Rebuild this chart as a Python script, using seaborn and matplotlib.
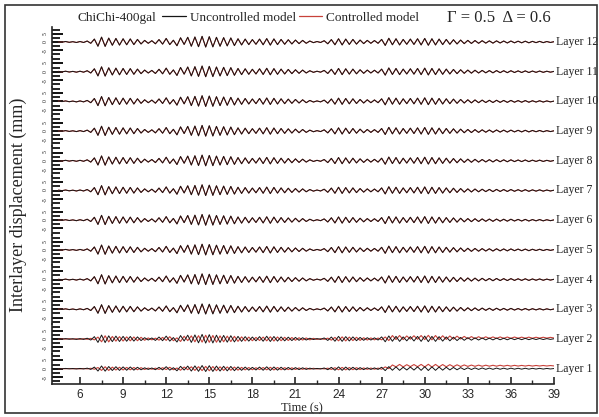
import numpy as np
import pandas as pd
import matplotlib
matplotlib.use("Agg")
import matplotlib.pyplot as plt
from matplotlib.lines import Line2D
from matplotlib.patches import Rectangle
import seaborn as sns

# ---------------- data ----------------
layers = [12, 11, 10, 9, 8, 7, 6, 5, 4, 3, 2, 1]
t_start = 4.5      # s, first sample
t_step = 0.25      # s, half-period of the dominant response
# successive peak values (mm) of the top-layer uncontrolled response
base_peaks = [
    0.2, -0.1, 0.3, -0.2, 0.2, -0.3, 0.3, -0.3,          # 4.5-6.5
    0.6, -0.8,                                           # 6.5-7
    1.8, -2.6, 3.0, -2.7,                                # 7-8
    2.4, -2.0, 2.2, -1.9,                                # 8-9
    2.0, -1.7, 1.9, -1.6,                                # 9-10
    1.6, -1.2, 1.0, -0.8,                                # 10-11
    0.8, -1.1, 1.5, -1.3,                                # 11-12
    2.2, -1.6, 1.1, -2.3,                                # 12-13
    2.6, -1.5, 2.9, -2.6,                                # 13-14
    3.1, -2.9, 3.5, -3.1,                                # 14-15
    3.3, -3.0, 2.9, -2.6,                                # 15-16
    2.7, -2.4, 2.5, -2.2,                                # 16-17
    2.0, -1.8, 1.8, -1.6,                                # 17-18
    1.5, -1.4, 1.8, -1.7,                                # 18-19
    2.1, -1.9, 1.9, -1.6,                                # 19-20
    1.6, -1.4, 1.4, -1.2,                                # 20-21
    1.2, -1.0, 1.0, -0.8,                                # 21-22
    0.6, -0.4, 0.3, -0.3,                                # 22-23
    0.8, -1.1, 1.5, -1.7,                                # 23-24
    2.0, -1.8, 1.8, -1.5,                                # 24-25
    1.6, -1.3, 1.2, -1.0,                                # 25-26
    1.0, -0.8, 0.9, -0.8,                                # 26-27
    1.6, -2.1, 2.3, -1.7,                                # 27-28
    2.0, -1.8, 1.6, -1.4,                                # 28-29
    1.8, -1.5, 2.0, -1.8,                                # 29-30
    2.2, -2.0, 2.0, -1.8,                                # 30-31
    1.8, -1.6, 1.6, -1.4,                                # 31-32
    1.4, -1.2, 1.2, -1.0,                                # 32-33
    1.0, -0.9, 0.9, -0.8,                                # 33-34
    0.8, -0.7, 0.7, -0.7,                                # 34-35
    0.7, -0.6, 0.6, -0.6,                                # 35-36
    0.6, -0.5, 0.5, -0.5,                                # 36-37
    0.5, -0.5, 0.4, -0.4,                                # 37-38
    0.4, -0.4, 0.3, -0.3, 0.2,                           # 38-39
]
# amplitude factors per layer (Layer 1 ... Layer 12)
uncontrolled_scale = [0.55, 0.80, 0.95, 1.0, 1.0, 1.0, 1.0, 1.0, 1.0, 1.0, 1.0, 1.0]
controlled_scale   = [0.40, 0.65, 0.85, 0.95, 0.95, 0.95, 0.95, 0.95, 0.95, 0.95, 0.95, 0.95]
controlled_lag     = [1, 1, 0, 0, 0, 0, 0, 0, 0, 0, 0, 0]      # samples of phase lag
controlled_drift   = [1.8, 0.8, 0, 0, 0, 0, 0, 0, 0, 0, 0, 0]  # mm, residual offset
drift_onset = 27.0
x_ticks = [6, 9, 12, 15, 18, 21, 24, 27, 30, 33, 36, 39]
y_ticks = [-5, 0, 5]
y_minor = [-7.5, -2.5, 2.5, 7.5]

# ---------------- figure ----------------
W, H = 599, 417
sns.set_style("ticks")
plt.rcParams["font.family"] = ["Liberation Serif", "DejaVu Serif"]
fig = plt.figure(figsize=(W / 100, H / 100), dpi=100)

black = "#151515"
red = "#c8413a"

t = t_start + t_step * np.arange(len(base_peaks))
base = np.array(base_peaks)

left, right = 52 / W, 554 / W
row_h = 29.7
first_center = 42.0

for i, L in enumerate(layers):
    cy = first_center + i * row_h
    bottom = 1 - (cy + row_h / 2) / H
    ax = fig.add_axes([left, bottom, right - left, row_h / H])
    k = L - 1
    unc = uncontrolled_scale[k] * base
    lag = controlled_lag[k]
    shifted = np.concatenate([np.zeros(lag), base[:len(base) - lag]]) if lag else base
    ramp = np.clip((t - drift_onset) / 1.0, 0, 1)
    con = controlled_scale[k] * shifted + controlled_drift[k] * ramp
    df = pd.DataFrame({"t": np.concatenate([t, t]),
                       "y": np.concatenate([unc, con]),
                       "model": ["Uncontrolled model"] * len(t) + ["Controlled model"] * len(t)})
    sns.lineplot(data=df[df.model == "Controlled model"], x="t", y="y", ax=ax,
                 color=red, linewidth=0.8, legend=False, zorder=2)
    sns.lineplot(data=df[df.model == "Uncontrolled model"], x="t", y="y", ax=ax,
                 color=black, linewidth=0.7, legend=False, zorder=3)
    ax.set_xlim(4.05, 39)
    ax.set_ylim(-9, 9)
    ax.set_xlabel("")
    ax.set_ylabel("")
    for s in ["top", "right"]:
        ax.spines[s].set_visible(False)
    ax.spines["left"].set_linewidth(1.2)
    ax.set_yticks(y_ticks)
    ax.set_yticks(y_minor, minor=True)
    ax.set_yticklabels([str(v) for v in y_ticks])
    ax.tick_params(axis="y", which="major", left=True, direction="in", length=8, width=1.4,
                   labelsize=4, labelrotation=90, pad=3, colors="#111111")
    ax.tick_params(axis="y", which="minor", left=True, direction="in", length=6, width=1.4)
    ax.patch.set_alpha(0)
    ax.text(1.004, 0.5, f"Layer {L}", transform=ax.transAxes, ha="left", va="center",
            fontsize=8.5, color="#222222")
    if L != 1:
        ax.spines["bottom"].set_visible(False)
        ax.set_xticks([])
    else:
        ax.spines["bottom"].set_linewidth(1.2)
        ax.set_xticks(x_ticks)
        ax.set_xticks(np.array(x_ticks[:-1]) + 1.5, minor=True)
        ax.set_xticklabels([str(v) for v in x_ticks], family=["Liberation Sans"])
        ax.tick_params(axis="x", which="major", bottom=True, direction="in", length=5,
                       width=1.2, labelsize=8.5, pad=4)
        ax.tick_params(axis="x", which="minor", bottom=True, direction="in", length=3, width=1.0)

fig.text(302 / W, 1 - 408 / H, "Time (s)", ha="center", va="center", fontsize=9)
fig.text(18 / W, 1 - 205 / H, "Interlayer displacement (mm)", ha="center", va="center",
         rotation=90, fontsize=13)

fig.text(77 / W, 1 - 18 / H, "ChiChi-400gal", ha="left", va="center", fontsize=9.5)
handles = [Line2D([], [], color=black, lw=0.9), Line2D([], [], color=red, lw=0.9)]
fig.legend(handles, ["Uncontrolled model", "Controlled model"], loc="center left",
           bbox_to_anchor=(153 / W, 1 - 18 / H), ncol=2, frameon=False, fontsize=9.5,
           handlelength=1.8, handletextpad=0.3, columnspacing=0.2, borderpad=0.2)
fig.text(447 / W, 1 - 18 / H, "Γ = 0.5  Δ = 0.6", ha="left", va="center", fontsize=12)

fig.patches.append(Rectangle((5 / W, 1 - 413 / H), 592 / W, 408 / H, transform=fig.transFigure,
                             fill=False, edgecolor="#333333", linewidth=1.2))

fig.savefig("out.png", dpi=100)
